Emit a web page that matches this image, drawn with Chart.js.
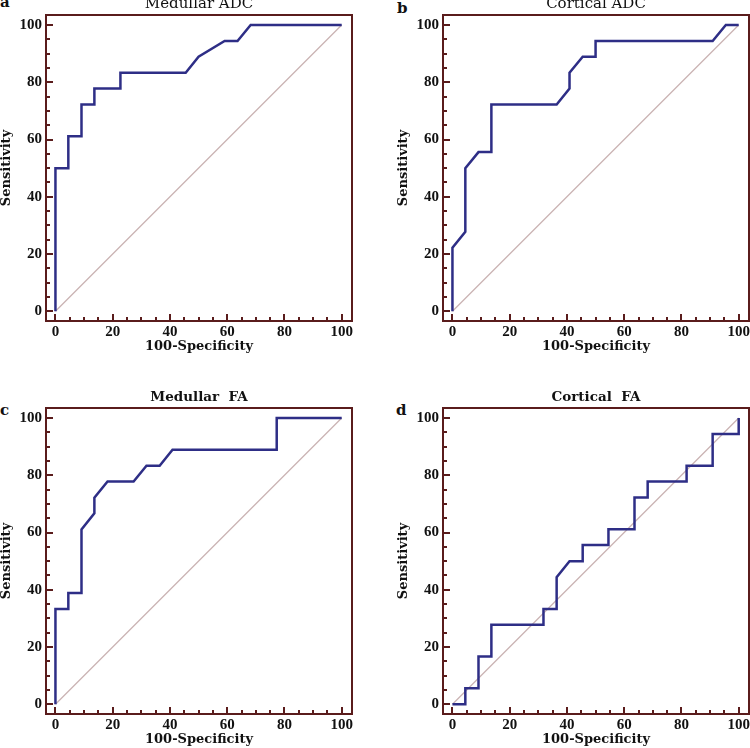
<!DOCTYPE html>
<html>
<head>
<meta charset="utf-8">
<script src="https://cdn.jsdelivr.net/npm/chart.js@4/dist/chart.umd.min.js"></script>
<style>
    html, body { margin: 0; padding: 0; background: #fff; }
    body { width: 750px; height: 748px; position: relative; overflow: hidden; }
    canvas { position: absolute; }
    .tag { position: absolute; font: bold 15px/15px "DejaVu Serif", serif; color: #111; }
</style>
</head>
<body>
<span class="tag" style="left:0px;top:-5px">a</span>
<span class="tag" style="left:397px;top:1px">b</span>
<span class="tag" style="left:0px;top:403px">c</span>
<span class="tag" style="left:396px;top:403px">d</span>
<canvas id="rocA" width="362" height="386" style="left:0px;top:-15px"></canvas>
<canvas id="rocB" width="362" height="386" style="left:397px;top:-15px"></canvas>
<canvas id="rocC" width="362" height="386" style="left:0px;top:378px"></canvas>
<canvas id="rocD" width="362" height="386" style="left:397px;top:378px"></canvas>
<script>
// ROC curves: x = 100-Specificity, y = Sensitivity (%)
var medAdcX = [0, 0, 4.5, 4.5, 9.1, 9.1, 13.6, 13.6, 22.7, 22.7, 45.5, 50.0, 59.1, 63.6, 68.2, 100];
var medAdcY = [0, 50.0, 50.0, 61.1, 61.1, 72.2, 72.2, 77.8, 77.8, 83.3, 83.3, 88.9, 94.4, 94.4, 100, 100];

var corAdcX = [0, 0, 4.5, 4.5, 9.1, 13.6, 13.6, 36.4, 40.9, 40.9, 45.5, 50.0, 50.0, 90.9, 95.5, 100];
var corAdcY = [0, 22.2, 27.8, 50.0, 55.6, 55.6, 72.2, 72.2, 77.8, 83.3, 88.9, 88.9, 94.4, 94.4, 100, 100];

var medFaX = [0, 0, 4.5, 4.5, 9.1, 9.1, 13.6, 13.6, 18.2, 27.3, 31.8, 36.4, 40.9, 77.3, 77.3, 100];
var medFaY = [0, 33.3, 33.3, 38.9, 38.9, 61.1, 66.7, 72.2, 77.8, 77.8, 83.3, 83.3, 88.9, 88.9, 100, 100];

var corFaX = [0, 4.5, 4.5, 9.1, 9.1, 13.6, 13.6, 31.8, 31.8, 36.4, 36.4, 40.9, 45.5, 45.5, 54.5, 54.5,
              63.6, 63.6, 68.2, 68.2, 81.8, 81.8, 90.9, 90.9, 100, 100];
var corFaY = [0, 0, 5.6, 5.6, 16.7, 16.7, 27.8, 27.8, 33.3, 33.3, 44.4, 50.0, 50.0, 55.6, 55.6, 61.1,
              61.1, 72.2, 72.2, 77.8, 77.8, 83.3, 83.3, 94.4, 94.4, 100];

var diagX = [0, 100];
var diagY = [0, 100];

var tickLabels = [0, 20, 40, 60, 80, 100];
var tickMarks = [0, 5, 10, 15, 20, 25, 30, 35, 40, 45, 50, 55, 60, 65, 70, 75, 80, 85, 90, 95, 100];

var frameColor = '#5a1c1c';
var curveColor = '#2e2e86';
var diagColor = '#c9b2b2';

document.addEventListener('DOMContentLoaded', function () {
    function toPoints(xs, ys) {
        var pts = [];
        for (var i = 0; i < xs.length; i++) {
            pts.push({ x: xs[i], y: ys[i] });
        }
        return pts;
    }

    // frame round the plot with short inward ticks
    var framePlugin = {
        id: 'frameTicks',
        afterDraw: function (chart) {
            var ctx = chart.ctx;
            var area = chart.chartArea;
            var xs = chart.scales.x;
            var ys = chart.scales.y;
            ctx.save();
            ctx.strokeStyle = frameColor;
            ctx.lineWidth = 2;
            ctx.strokeRect(area.left, area.top, area.right - area.left, area.bottom - area.top);
            ctx.beginPath();
            tickMarks.forEach(function (v) {
                var len = v % 20 === 0 ? 7 : 4;
                var px = Math.round(xs.getPixelForValue(v));
                ctx.moveTo(px, area.bottom);
                ctx.lineTo(px, area.bottom - len);
                var py = Math.round(ys.getPixelForValue(v));
                ctx.moveTo(area.left, py);
                ctx.lineTo(area.left + len, py);
            });
            ctx.stroke();
            ctx.restore();
        }
    };

    var tickFont = { family: '"Liberation Serif", serif', size: 15, weight: 'bold' };
    var axisFont = { family: '"DejaVu Serif", serif', size: 13, weight: 'bold', lineHeight: 1 };

    function fixedTicks(scale) {
        scale.ticks = tickLabels.map(function (v) { return { value: v }; });
    }

    function createRoc(id, title, bold, xs, ys) {
        var ctx = document.getElementById(id).getContext('2d');
        new Chart(ctx, {
            type: 'scatter',
            data: {
                datasets: [{
                    data: toPoints(xs, ys),
                    showLine: true,
                    borderColor: curveColor,
                    borderWidth: 2.5,
                    pointRadius: 0,
                    tension: 0
                }, {
                    data: toPoints(diagX, diagY),
                    showLine: true,
                    borderColor: diagColor,
                    borderWidth: 1.2,
                    pointRadius: 0
                }]
            },
            options: {
                responsive: false,
                animation: false,
                layout: { padding: { left: 0, top: 0, right: 10, bottom: 0 } },
                plugins: {
                    legend: { display: false },
                    tooltip: { enabled: false },
                    title: {
                        display: true,
                        text: title,
                        fullSize: false,
                        color: '#111',
                        font: {
                            family: '"DejaVu Serif", serif',
                            size: bold ? 13.5 : 15,
                            weight: bold ? 'bold' : 'normal',
                            lineHeight: 1
                        },
                        padding: bold ? { top: 12.75, bottom: 3.75 } : { top: 12, bottom: 3 }
                    }
                },
                scales: {
                    x: {
                        type: 'linear',
                        min: -3.3,
                        max: 103.6,
                        afterBuildTicks: fixedTicks,
                        afterFit: function (scale) {
                            scale.height = 50;
                            scale.paddingLeft = 0;
                            scale.paddingRight = 0;
                        },
                        grid: { display: false, drawTicks: false, tickLength: 0 },
                        border: { display: false },
                        ticks: { font: tickFont, color: '#111', padding: 2, maxRotation: 0, autoSkip: false },
                        title: {
                            display: true,
                            text: '100-Specificity',
                            color: '#111',
                            font: axisFont,
                            padding: { top: 0, bottom: 18 }
                        }
                    },
                    y: {
                        type: 'linear',
                        min: -3.4,
                        max: 103.5,
                        afterBuildTicks: fixedTicks,
                        afterFit: function (scale) {
                            scale.width = 46;
                            scale.paddingTop = 0;
                            scale.paddingBottom = 0;
                        },
                        grid: { display: false, drawTicks: false, tickLength: 0 },
                        border: { display: false },
                        ticks: { font: tickFont, color: '#111', padding: 4, autoSkip: false },
                        title: {
                            display: true,
                            text: 'Sensitivity',
                            color: '#111',
                            font: axisFont,
                            padding: { top: 0, bottom: 0 }
                        }
                    }
                }
            },
            plugins: [framePlugin]
        });
    }

    createRoc('rocA', 'Medullar ADC', false, medAdcX, medAdcY);
    createRoc('rocB', 'Cortical ADC', false, corAdcX, corAdcY);
    createRoc('rocC', 'Medullar  FA', true, medFaX, medFaY);
    createRoc('rocD', 'Cortical  FA', true, corFaX, corFaY);
});
</script>
</body>
</html>
